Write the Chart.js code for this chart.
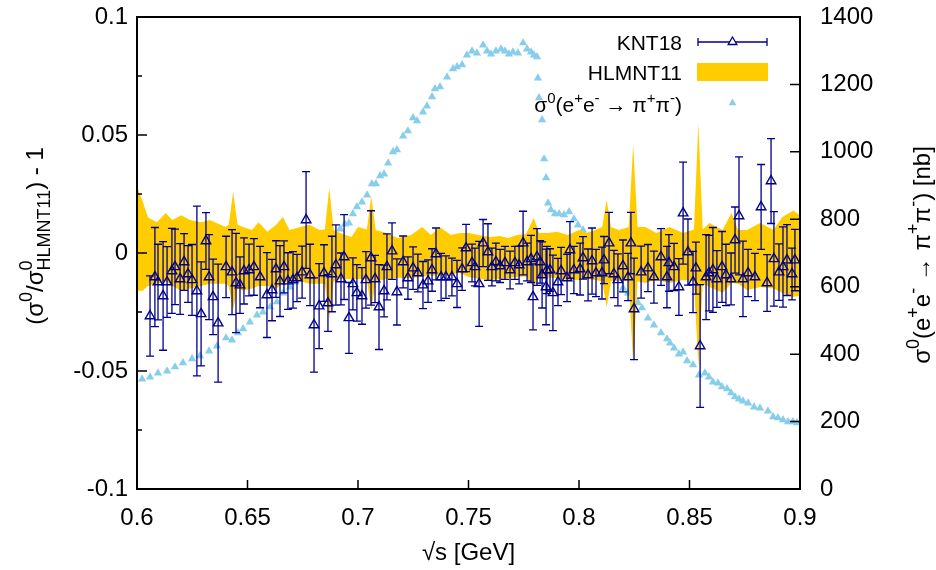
<!DOCTYPE html>
<html>
<head>
<meta charset="utf-8">
<script src="https://cdn.jsdelivr.net/npm/chart.js@4.4.0/dist/chart.umd.min.js"></script>
<style>
html, body { margin: 0; padding: 0; background: #fff; }
canvas { display: block; }
</style>
</head>
<body>
<canvas id="chart" width="936" height="570"></canvas>
<script>
const FONT = '"Liberation Sans", Arial, "DejaVu Sans", sans-serif';

// KNT18 relative difference, with error
const knX = [0.6059,0.6081,0.6095,0.6118,0.6136,0.6158,0.6172,0.6195,0.6213,0.6231,0.6249,0.6271,0.6290,0.6312,0.6326,0.6344,0.6367,0.6403,0.6430,0.6448,0.6466,0.6484,0.6507,0.6529,0.6557,0.6588,0.6611,0.6629,0.6647,0.6665,0.6683,0.6706,0.6724,0.6747,0.6765,0.6783,0.6801,0.6824,0.6846,0.6864,0.6882,0.6900,0.6923,0.6937,0.6959,0.6977,0.6995,0.7018,0.7036,0.7059,0.7077,0.7095,0.7118,0.7131,0.7154,0.7176,0.7204,0.7226,0.7249,0.7271,0.7294,0.7317,0.7335,0.7353,0.7376,0.7398,0.7425,0.7448,0.7471,0.7489,0.7516,0.7529,0.7548,0.7566,0.7588,0.7606,0.7624,0.7643,0.7665,0.7688,0.7710,0.7729,0.7747,0.7765,0.7783,0.7792,0.7810,0.7824,0.7833,0.7851,0.7855,0.7869,0.7882,0.7905,0.7919,0.7946,0.7959,0.7977,0.8005,0.8018,0.8041,0.8059,0.8077,0.8104,0.8113,0.8136,0.8158,0.8176,0.8199,0.8222,0.8235,0.8249,0.8281,0.8312,0.8339,0.8371,0.8398,0.8407,0.8430,0.8452,0.8471,0.8493,0.8516,0.8529,0.8548,0.8575,0.8588,0.8606,0.8624,0.8647,0.8665,0.8688,0.8706,0.8724,0.8742,0.8765,0.8796,0.8824,0.8851,0.8869,0.8882,0.8905,0.8923,0.8941,0.8964,0.8977];
const knY = [-0.0267,-0.0102,-0.0123,-0.0182,-0.0123,-0.0076,-0.0059,-0.0110,-0.0038,-0.0089,-0.0114,-0.0161,-0.0258,0.0051,-0.0102,-0.0186,-0.0297,-0.0059,-0.0081,-0.0127,-0.0136,-0.0076,-0.0072,-0.0059,-0.0102,-0.0178,-0.0157,-0.0068,-0.0119,-0.0059,-0.0119,-0.0114,-0.0106,-0.0081,0.0140,-0.0093,-0.0305,-0.0225,-0.0085,-0.0212,-0.0089,-0.0051,-0.0110,-0.0017,-0.0275,-0.0131,-0.0169,-0.0182,-0.0114,-0.0021,-0.0110,-0.0229,-0.0161,-0.0059,0.0008,-0.0165,-0.0038,-0.0106,-0.0064,-0.0085,-0.0136,-0.0119,-0.0072,-0.0004,-0.0102,-0.0102,-0.0102,-0.0131,-0.0068,0.0021,-0.0042,-0.0059,-0.0131,0.0042,0.0004,-0.0059,-0.0038,-0.0055,-0.0042,-0.0072,-0.0042,-0.0051,0.0042,-0.0038,-0.0025,-0.0186,-0.0017,-0.0038,-0.0093,-0.0144,-0.0072,-0.0072,-0.0169,-0.0123,-0.0076,-0.0106,0.0013,-0.0072,-0.0068,-0.0021,-0.0093,-0.0034,-0.0085,-0.0085,-0.0030,0.0042,-0.0089,-0.0114,-0.0055,-0.0102,0.0042,-0.0237,-0.0081,-0.0064,-0.0102,-0.0017,-0.0102,-0.0042,-0.0059,-0.0144,0.0169,0.0004,-0.0123,-0.0064,-0.0394,-0.0102,-0.0085,-0.0072,-0.0110,-0.0059,-0.0093,-0.0110,0.0055,0.0157,-0.0110,-0.0085,-0.0102,0.0195,-0.0127,0.0305,-0.0025,-0.0081,-0.0059,-0.0030,-0.0089,-0.0030];
const knErr = [0.017,0.021,0.016,0.023,0.015,0.018,0.016,0.015,0.012,0.012,0.015,0.036,0.022,0.012,0.018,0.016,0.025,0.013,0.018,0.021,0.012,0.014,0.011,0.012,0.013,0.018,0.013,0.012,0.015,0.011,0.012,0.012,0.010,0.011,0.0205,0.013,0.020,0.018,0.012,0.012,0.016,0.017,0.011,0.018,0.015,0.011,0.012,0.012,0.012,0.020,0.010,0.018,0.011,0.014,0.012,0.014,0.011,0.009,0.009,0.008,0.010,0.009,0.009,0.011,0.010,0.009,0.008,0.010,0.009,0.010,0.008,0.008,0.018,0.010,0.012,0.008,0.008,0.007,0.007,0.008,0.007,0.008,0.0135,0.008,0.010,0.014,0.012,0.009,0.014,0.016,0.010,0.009,0.016,0.010,0.010,0.010,0.012,0.010,0.011,0.009,0.011,0.014,0.010,0.011,0.010,0.013,0.010,0.011,0.011,0.010,0.013,0.0215,0.011,0.010,0.011,0.012,0.013,0.012,0.010,0.012,0.0216,0.014,0.013,0.011,0.026,0.018,0.016,0.018,0.012,0.015,0.013,0.011,0.014,0.025,0.016,0.010,0.010,0.018,0.012,0.018,0.020,0.012,0.017,0.015,0.011,0.013];

// HLMNT11 uncertainty band
const bandX = [0.600,0.6025,0.605,0.609,0.613,0.616,0.620,0.624,0.629,0.633,0.636,0.640,0.6415,0.6435,0.6455,0.648,0.652,0.655,0.659,0.663,0.666,0.669,0.674,0.678,0.6825,0.685,0.687,0.689,0.692,0.697,0.700,0.704,0.706,0.708,0.713,0.718,0.724,0.729,0.733,0.737,0.742,0.746,0.750,0.755,0.760,0.764,0.768,0.772,0.776,0.7795,0.782,0.786,0.790,0.795,0.800,0.804,0.8105,0.8125,0.8145,0.818,0.8225,0.8245,0.8265,0.830,0.835,0.841,0.847,0.852,0.854,0.856,0.859,0.865,0.869,0.872,0.876,0.882,0.888,0.892,0.897,0.900];
const bandHi = [0.028,0.022,0.015,0.013,0.017,0.014,0.016,0.014,0.013,0.014,0.0127,0.011,0.012,0.026,0.012,0.011,0.0097,0.013,0.009,0.012,0.0153,0.0097,0.011,0.012,0.0097,0.010,0.0275,0.0097,0.0085,0.0068,0.011,0.010,0.024,0.0097,0.0085,0.0064,0.0076,0.011,0.0076,0.011,0.0076,0.0085,0.0085,0.0075,0.0068,0.0072,0.0064,0.0076,0.008,0.0148,0.0085,0.0085,0.009,0.0076,0.0097,0.0085,0.011,0.0225,0.011,0.0097,0.011,0.046,0.011,0.011,0.0085,0.011,0.0085,0.010,0.055,0.010,0.0127,0.0097,0.017,0.0097,0.0097,0.0127,0.0097,0.0153,0.018,0.016];
const bandLo = [-0.016,-0.016,-0.014,-0.013,-0.012,-0.014,-0.016,-0.015,-0.014,-0.013,-0.013,-0.013,-0.014,-0.024,-0.015,-0.016,-0.015,-0.014,-0.014,-0.015,-0.013,-0.012,-0.012,-0.013,-0.013,-0.013,-0.028,-0.012,-0.011,-0.011,-0.011,-0.011,-0.024,-0.012,-0.011,-0.0105,-0.0106,-0.010,-0.0095,-0.0095,-0.009,-0.0085,-0.0102,-0.011,-0.0114,-0.011,-0.0106,-0.0102,-0.010,-0.0144,-0.0102,-0.0104,-0.0106,-0.0114,-0.0114,-0.011,-0.012,-0.023,-0.012,-0.0114,-0.012,-0.047,-0.012,-0.0127,-0.0114,-0.0127,-0.0114,-0.012,-0.048,-0.013,-0.0144,-0.017,-0.0127,-0.013,-0.0157,-0.0144,-0.015,-0.017,-0.0186,-0.018];

// bare cross section [nb], right axis
const csX = [0.6023,0.6059,0.6095,0.6136,0.6172,0.6208,0.6249,0.6285,0.6326,0.6362,0.6403,0.6430,0.6457,0.6480,0.6511,0.6543,0.6570,0.6602,0.6633,0.6661,0.6692,0.6715,0.6738,0.6765,0.6792,0.6819,0.6846,0.6873,0.6900,0.6919,0.6941,0.6959,0.6977,0.6995,0.7018,0.7041,0.7063,0.7081,0.7100,0.7118,0.7136,0.7158,0.7176,0.7204,0.7226,0.7249,0.7267,0.7294,0.7312,0.7335,0.7348,0.7371,0.7403,0.7430,0.7448,0.7471,0.7493,0.7516,0.7538,0.7566,0.7584,0.7602,0.7624,0.7647,0.7665,0.7683,0.7701,0.7724,0.7747,0.7765,0.7783,0.7796,0.7810,0.7814,0.7819,0.7833,0.7842,0.7851,0.7860,0.7873,0.7891,0.7910,0.7932,0.7955,0.7977,0.7995,0.8018,0.8045,0.8068,0.8090,0.8113,0.8136,0.8158,0.8181,0.8199,0.8222,0.8244,0.8267,0.8285,0.8312,0.8339,0.8371,0.8398,0.8412,0.8430,0.8452,0.8471,0.8489,0.8516,0.8543,0.8570,0.8588,0.8606,0.8629,0.8647,0.8670,0.8688,0.8706,0.8724,0.8742,0.8765,0.8792,0.8819,0.8855,0.8878,0.8900,0.8923,0.8946,0.8968,0.8986];
const csY = [326,332,344,350,362,374,386,395,409,424,448,442,463,475,495,516,525,540,555,581,599,614,626,644,664,685,703,730,753,771,786,789,816,837,851,872,905,905,929,934,967,1000,1006,1047,1062,1101,1092,1118,1136,1163,1187,1193,1222,1246,1252,1258,1287,1299,1293,1317,1299,1290,1299,1305,1299,1290,1296,1293,1323,1305,1296,1287,1282,1219,1160,1095,979,923,848,828,816,816,813,822,801,783,768,751,733,715,694,673,650,623,596,581,567,552,537,507,486,463,445,433,418,400,406,380,368,338,344,332,317,314,303,297,285,273,267,261,255,243,240,231,214,211,205,199,199,196];

const leftMinor = [-0.075, -0.025, 0.025, 0.075];

const NAVY = '#00008b';
const GOLD = '#ffcc00';
const SKY = '#87ceeb';

// text with super/subscripts: ['txt'] plain, ['', sup, sub] stacked
function drawRich(ctx, parts, x, y, size, align, ratio) {
    const big = size + 'px ' + FONT;
    const small = Math.round(size * (ratio || 0.7)) + 'px ' + FONT;
    const widths = parts.map(p => {
        if (p.length === 1) { ctx.font = big; return ctx.measureText(p[0]).width; }
        ctx.font = small;
        return Math.max(ctx.measureText(p[1] || '').width, ctx.measureText(p[2] || '').width);
    });
    const total = widths.reduce((a, b) => a + b, 0);
    let cx = align === 'right' ? x - total : align === 'center' ? x - total / 2 : x;
    ctx.textAlign = 'left';
    ctx.textBaseline = 'alphabetic';
    parts.forEach((p, i) => {
        if (p.length === 1) {
            ctx.font = big;
            ctx.fillText(p[0], cx, y);
        } else {
            ctx.font = small;
            if (p[1]) ctx.fillText(p[1], cx, y - size * 0.45);
            if (p[2]) ctx.fillText(p[2], cx, y + size * 0.28);
        }
        cx += widths[i];
    });
}

const errorBars = {
    id: 'errorBars',
    beforeDatasetDraw(chart, args) {
        if (args.index !== 0) return;
        const {ctx, chartArea: a, scales} = chart;
        ctx.save();
        ctx.beginPath();
        ctx.rect(a.left, a.top, a.width, a.height);
        ctx.clip();
        ctx.strokeStyle = NAVY;
        ctx.lineWidth = 1.3;
        ctx.beginPath();
        for (let i = 0; i < knX.length; i++) {
            const px = scales.x.getPixelForValue(knX[i]);
            const top = scales.y.getPixelForValue(knY[i] + knErr[i]);
            const bot = scales.y.getPixelForValue(knY[i] - knErr[i]);
            ctx.moveTo(px, top); ctx.lineTo(px, bot);
            ctx.moveTo(px - 4, top); ctx.lineTo(px + 4, top);
            ctx.moveTo(px - 4, bot); ctx.lineTo(px + 4, bot);
        }
        ctx.stroke();
        ctx.restore();
    }
};

const frame = {
    id: 'frame',
    afterDatasetsDraw(chart) {
        const {ctx, chartArea: a, scales} = chart;
        ctx.save();
        ctx.strokeStyle = '#000';
        ctx.lineWidth = 1.5;
        ctx.beginPath();
        scales.x.ticks.forEach(t => {
            const p = scales.x.getPixelForValue(t.value);
            ctx.moveTo(p, a.bottom); ctx.lineTo(p, a.bottom - 9);
        });
        scales.y.ticks.forEach(t => {
            const p = scales.y.getPixelForValue(t.value);
            ctx.moveTo(a.left, p); ctx.lineTo(a.left + 10, p);
        });
        leftMinor.forEach(v => {
            const p = scales.y.getPixelForValue(v);
            ctx.moveTo(a.left, p); ctx.lineTo(a.left + 5, p);
        });
        scales.y2.ticks.forEach(t => {
            const p = scales.y2.getPixelForValue(t.value);
            ctx.moveTo(a.right, p); ctx.lineTo(a.right - 10, p);
        });
        ctx.stroke();
        ctx.lineWidth = 2;
        ctx.strokeRect(a.left, a.top, a.width, a.height);

        // legend
        ctx.fillStyle = '#000';
        const tx = a.right - 118;
        drawRich(ctx, [['KNT18']], tx, a.top + 33, 21, 'right');
        drawRich(ctx, [['HLMNT11']], tx, a.top + 63, 21, 'right');
        drawRich(ctx, [['σ'], ['', '0'], ['(e'], ['', '+'], ['e'], ['', '-'], [' → π'], ['', '+'], ['π'], ['', '-'], [')']], tx, a.top + 95, 21, 'right');
        const lx0 = a.right - 102, lx1 = a.right - 33, lm = (lx0 + lx1) / 2;
        ctx.strokeStyle = NAVY;
        ctx.lineWidth = 1.3;
        ctx.beginPath();
        ctx.moveTo(lx0, a.top + 25); ctx.lineTo(lx1, a.top + 25);
        ctx.moveTo(lx0, a.top + 21); ctx.lineTo(lx0, a.top + 29);
        ctx.moveTo(lx1, a.top + 21); ctx.lineTo(lx1, a.top + 29);
        ctx.stroke();
        ctx.fillStyle = '#fff';
        Chart.helpers.drawPoint(ctx, {pointStyle: 'triangle', radius: 5, borderWidth: 1.3}, lm, a.top + 25);
        ctx.fillStyle = GOLD;
        ctx.fillRect(lx0 - 1, a.top + 46, lx1 - lx0 + 2, 18);
        ctx.fillStyle = SKY;
        ctx.strokeStyle = SKY;
        Chart.helpers.drawPoint(ctx, {pointStyle: 'triangle', radius: 4.5, borderWidth: 0}, lm, a.top + 86);

        // axis titles
        ctx.fillStyle = '#000';
        ctx.save();
        ctx.translate(43, 236);
        ctx.rotate(-Math.PI / 2);
        drawRich(ctx, [['(σ'], ['', '0'], ['/σ'], ['', '0', 'HLMNT11'], [') - 1']], 0, 0, 24, 'center', 0.75);
        ctx.restore();
        ctx.save();
        ctx.translate(930, 255);
        ctx.rotate(-Math.PI / 2);
        drawRich(ctx, [['σ'], ['', '0'], ['(e'], ['', '+'], ['e'], ['', '-'], [' → π'], ['', '+'], ['π'], ['', '-'], [') [nb]']], 0, 0, 24, 'center', 0.75);
        ctx.restore();
        ctx.restore();
    }
};

const fmt = v => String(parseFloat(Number(v).toFixed(3)));
const noVPad = s => { s.paddingTop = 0; s.paddingBottom = 0; };

new Chart(document.getElementById('chart'), {
    type: 'scatter',
    data: {
        datasets: [
            {
                label: 'KNT18',
                data: knX.map((x, i) => ({x: x, y: knY[i]})),
                yAxisID: 'y',
                pointStyle: 'triangle',
                pointRadius: 5.5,
                backgroundColor: 'rgba(0,0,0,0)',
                borderColor: NAVY,
                borderWidth: 1.4,
                order: 0
            },
            {
                type: 'line',
                label: 'HLMNT11',
                data: bandX.map((x, i) => ({x: x, y: bandHi[i]})),
                yAxisID: 'y',
                fill: '+1',
                backgroundColor: GOLD,
                borderWidth: 0,
                pointRadius: 0,
                tension: 0,
                order: 1
            },
            {
                type: 'line',
                label: 'HLMNT11 low',
                data: bandX.map((x, i) => ({x: x, y: bandLo[i]})),
                yAxisID: 'y',
                fill: false,
                borderWidth: 0,
                pointRadius: 0,
                tension: 0,
                order: 2
            },
            {
                label: 'sigma0',
                data: csX.map((x, i) => ({x: x, y: csY[i]})),
                yAxisID: 'y2',
                pointStyle: 'triangle',
                pointRadius: 4.8,
                backgroundColor: SKY,
                borderColor: SKY,
                borderWidth: 0,
                order: 3
            }
        ]
    },
    options: {
        responsive: false,
        animation: false,
        devicePixelRatio: 1,
        layout: {padding: {top: 17, left: 0, right: 0, bottom: 0}},
        plugins: {
            legend: {display: false},
            tooltip: {enabled: false}
        },
        scales: {
            x: {
                type: 'linear',
                position: 'bottom',
                min: 0.6,
                max: 0.9,
                grid: {display: false, drawTicks: false},
                border: {display: false},
                ticks: {stepSize: 0.05, padding: 15, color: '#000', font: {family: FONT, size: 24}, callback: fmt, maxRotation: 0},
                title: {display: true, text: '√s [GeV]', color: '#000', font: {family: FONT, size: 24}, padding: {top: 0, bottom: 2}},
                afterFit: s => { s.height = 81; }
            },
            y: {
                type: 'linear',
                position: 'left',
                min: -0.1,
                max: 0.1,
                grid: {display: false, drawTicks: false},
                border: {display: false},
                ticks: {stepSize: 0.05, padding: 9, color: '#000', font: {family: FONT, size: 24}, callback: fmt},
                afterFit: s => { s.width = 137; noVPad(s); }
            },
            y2: {
                type: 'linear',
                position: 'right',
                min: 0,
                max: 1400,
                grid: {display: false, drawTicks: false},
                border: {display: false},
                ticks: {stepSize: 200, padding: 20, color: '#000', font: {family: FONT, size: 24}, callback: fmt},
                afterFit: s => { s.width = 136; noVPad(s); }
            }
        }
    },
    plugins: [errorBars, frame]
});
</script>
</body>
</html>
